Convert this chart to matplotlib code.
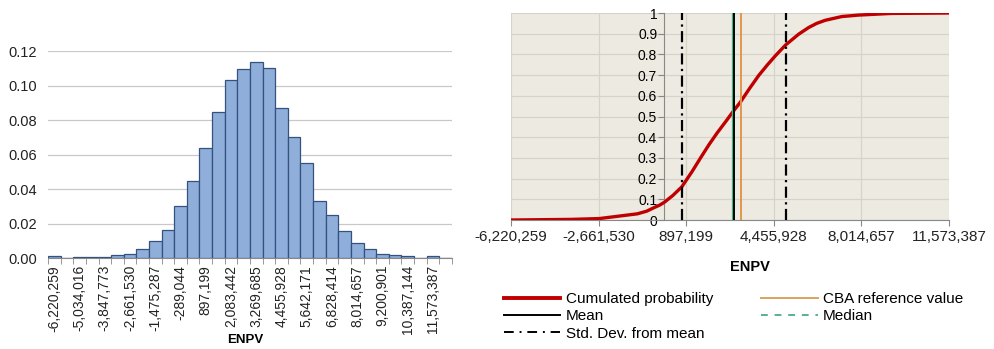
import numpy as np
import matplotlib
matplotlib.use('Agg')
from matplotlib import pyplot as plt
from matplotlib.lines import Line2D

plt.rcParams['font.family'] = ['Liberation Sans', 'DejaVu Sans']

# histogram of ENPV (relative frequency per bin)
freq = [0.0010, 0.0, 0.0008, 0.0008, 0.0008, 0.0020, 0.0025, 0.0054,
        0.0097, 0.0163, 0.0299, 0.0446, 0.0638, 0.0845, 0.1031, 0.1095,
        0.1136, 0.1101, 0.0872, 0.0704, 0.0549, 0.0332, 0.0252, 0.0157,
        0.0087, 0.0054, 0.0025, 0.0020, 0.0010, 0.0, 0.0010, 0.0]
hist_labels = ['-6,220,259', '-5,034,016', '-3,847,773', '-2,661,530',
               '-1,475,287', '-289,044', '897,199', '2,083,442',
               '3,269,685', '4,455,928', '5,642,171', '6,828,414',
               '8,014,657', '9,200,901', '10,387,144', '11,573,387']

# cumulative probability curve
cdf_x = [-6220259, -3779000, -2633000, -1754000, -1082000, -700000,
         -405000, -180000, 0, 350000, 717000, 1146000, 1480000, 1823000,
         2150000, 2499000, 2795000, 3107000, 3480000, 3848000, 4200000,
         4525000, 4930000, 5469000, 5874000, 6200000, 6550000, 7223000,
         7899000, 9236000, 11573387]
cdf_y = [0.0, 0.003, 0.007, 0.02, 0.03, 0.043,
         0.06, 0.072, 0.085, 0.118, 0.16, 0.236, 0.30, 0.364,
         0.42, 0.475, 0.523, 0.571, 0.637, 0.699, 0.75,
         0.794, 0.845, 0.898, 0.93, 0.95, 0.965, 0.983,
         0.99, 0.998, 1.0]
cdf_ticks = [-6220259, -2661530, 897199, 4455928, 8014657, 11573387]
cdf_ticklabels = ['-6,220,259', '-2,661,530', '897,199', '4,455,928',
                  '8,014,657', '11,573,387']

mean_val = 2830000
std_val = 2105000
median_val = 2800000
cba_val = 3130000

fig = plt.figure(figsize=(9.94, 3.49), dpi=100)

# ---- left: histogram
ax1 = fig.add_axes([0.0483, 0.2607, 0.4064, 0.593])
pos = np.arange(len(freq))
ax1.bar(pos, freq, width=1.0, color='#8FAEDA', edgecolor='#34527F',
        linewidth=0.9, zorder=3)
ax1.set_xlim(-0.5, len(freq) - 0.5)
ax1.set_ylim(0, 0.12)
ax1.set_yticks(np.arange(0, 0.121, 0.02))
ax1.set_yticklabels(['%.2f' % v for v in np.arange(0, 0.121, 0.02)],
                    fontsize=10.5, color='#222222')
ax1.yaxis.grid(True, color='#C8C8C8', linewidth=0.9, zorder=0)
ax1.tick_params(axis='y', length=0, pad=8)
ax1.set_xticks(pos[::2])
ax1.set_xticklabels(hist_labels, rotation=90, fontsize=10, color='#222222')
ax1.set_xticks(np.arange(-0.5, len(freq), 1.0), minor=True)
ax1.tick_params(axis='x', which='major', length=0, pad=5)
ax1.tick_params(axis='x', which='minor', length=4, color='#888888')
for s in ['top', 'right', 'left']:
    ax1.spines[s].set_visible(False)
ax1.spines['bottom'].set_color('#888888')
fig.text(0.2466, 0.026, 'ENPV', ha='center', va='center',
         fontsize=9.5, fontweight='bold')

# ---- right: cumulative probability
ax2 = fig.add_axes([0.5141, 0.3696, 0.4406, 0.5931])
ax2.set_facecolor('#EDEAE1')
ax2.set_xlim(cdf_ticks[0], cdf_ticks[-1])
ax2.set_ylim(0, 1)
ax2.set_xticks(cdf_ticks)
ax2.set_xticklabels(cdf_ticklabels, fontsize=11, color='#222222')
ax2.set_yticks(np.arange(0, 1.01, 0.1))
ax2.set_yticklabels(['0', '0.1', '0.2', '0.3', '0.4', '0.5', '0.6', '0.7',
                     '0.8', '0.9', '1'], fontsize=10.5, color='#222222')
ax2.grid(True, color='#D6D3CA', linewidth=0.9, zorder=0)
ax2.spines['left'].set_position(('data', 0))
ax2.spines['left'].set_color('#888888')
ax2.spines['bottom'].set_color('#888888')
for s in ['top', 'right']:
    ax2.spines[s].set_visible(False)
ax2.tick_params(axis='y', length=4, color='#888888', pad=1)
ax2.tick_params(axis='x', length=4, color='#888888', pad=3)

ax2.plot(cdf_x, cdf_y, color='#C00000', linewidth=2.4, zorder=4)
ax2.axvline(mean_val - std_val, color='black', linewidth=1.6,
            linestyle=(0, (5, 2, 1, 2)), zorder=5)
ax2.axvline(mean_val + std_val, color='black', linewidth=1.6,
            linestyle=(0, (5, 2, 1, 2)), zorder=5)
ax2.axvline(median_val, color='#33B889', linewidth=1.6, zorder=5)
ax2.axvline(mean_val, color='black', linewidth=1.4, zorder=6)
ax2.axvline(cba_val, color='#E3964A', linewidth=1.4, zorder=5)
fig.text(0.754, 0.235, 'ENPV', ha='center', va='center',
         fontsize=10.5, fontweight='bold')

handles = [
    Line2D([], [], color='#C00000', linewidth=2.8),
    Line2D([], [], color='black', linewidth=1.4),
    Line2D([], [], color='black', linewidth=1.4, linestyle=(0, (5, 3, 1, 3))),
    Line2D([], [], color='#D9A35F', linewidth=1.4),
    Line2D([], [], color='#5BAE95', linewidth=1.4, linestyle=(0, (3.5, 3.5))),
]
labels = ['Cumulated probability', 'Mean', 'Std. Dev. from mean',
          'CBA reference value', 'Median']
fig.legend(handles, labels, loc='upper left', bbox_to_anchor=(0.507, 0.163),
           ncol=2, frameon=False, fontsize=11, handlelength=3.7,
           handletextpad=0.35, labelspacing=0.22, columnspacing=3.15,
           borderpad=0, borderaxespad=0)

fig.savefig('out.png', dpi=100)
